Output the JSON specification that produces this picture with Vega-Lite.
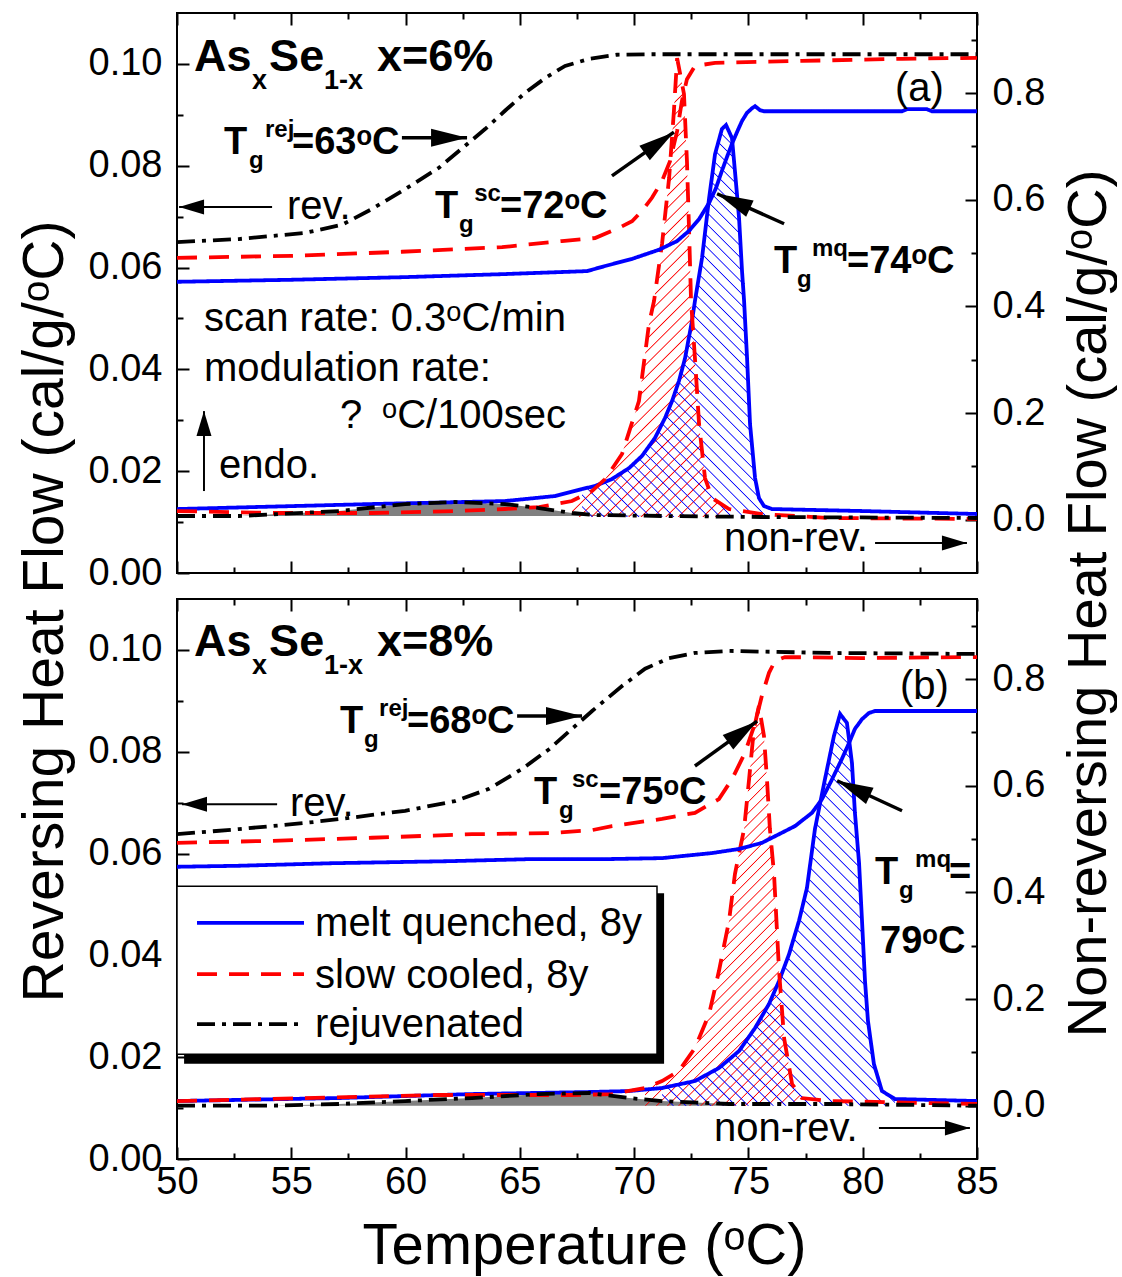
{
"$schema": "https://vega.github.io/schema/vega-lite/v6.json",
"padding": {"left": 15, "top": 11, "right": 0, "bottom": 0},
"bounds": "flush",
"spacing": 26,
"config": {
  "font": "Liberation Sans",
  "view": {"stroke": "#000000", "strokeWidth": 2},
  "axis": {"domain": false, "grid": false, "tickColor": "#000000", "tickWidth": 2, "labelColor": "#000000", "labelFontSize": 38, "labelFont": "Liberation Sans", "labelOverlap": false, "labelFlush": false, "labelBound": false, "titleFont": "Liberation Sans", "titleFontSize": 57, "titleFontWeight": "normal", "titleColor": "#000000"},
  "text": {"font": "Liberation Sans", "color": "#000000"}
},
"resolve": {"scale": {"color": "independent", "strokeDash": "independent"}},
"datasets": {
  "curvesA": [
    {"series":"mq","kind":"rev","T":50,"v":0.0572},{"series":"mq","kind":"rev","T":55.03,"v":0.0576},{"series":"mq","kind":"rev","T":59.84,"v":0.0581},{"series":"mq","kind":"rev","T":64.22,"v":0.0587},{"series":"mq","kind":"rev","T":67.94,"v":0.0593},{"series":"mq","kind":"rev","T":68.73,"v":0.0603},{"series":"mq","kind":"rev","T":69.91,"v":0.0617},{"series":"mq","kind":"rev","T":71.09,"v":0.0635},{"series":"mq","kind":"rev","T":71.88,"v":0.0652},{"series":"mq","kind":"rev","T":72.4,"v":0.0672},{"series":"mq","kind":"rev","T":72.84,"v":0.0695},{"series":"mq","kind":"rev","T":73.28,"v":0.0727},{"series":"mq","kind":"rev","T":73.58,"v":0.0756},{"series":"mq","kind":"rev","T":73.84,"v":0.079},{"series":"mq","kind":"rev","T":74.06,"v":0.0817},{"series":"mq","kind":"rev","T":74.28,"v":0.0843},{"series":"mq","kind":"rev","T":74.5,"v":0.0866},{"series":"mq","kind":"rev","T":74.72,"v":0.0888},{"series":"mq","kind":"rev","T":74.94,"v":0.0904},{"series":"mq","kind":"rev","T":75.16,"v":0.0913},{"series":"mq","kind":"rev","T":75.29,"v":0.0917},{"series":"mq","kind":"rev","T":75.51,"v":0.0909},{"series":"mq","kind":"rev","T":75.68,"v":0.0907},{"series":"mq","kind":"rev","T":81.72,"v":0.0907},{"series":"mq","kind":"rev","T":81.94,"v":0.0911},{"series":"mq","kind":"rev","T":82.81,"v":0.0911},{"series":"mq","kind":"rev","T":83.03,"v":0.0907},{"series":"mq","kind":"rev","T":85,"v":0.0907},
    {"series":"sc","kind":"rev","T":50,"v":0.0619},{"series":"sc","kind":"rev","T":55.03,"v":0.0623},{"series":"sc","kind":"rev","T":59.84,"v":0.0631},{"series":"sc","kind":"rev","T":64.22,"v":0.064},{"series":"sc","kind":"rev","T":66.84,"v":0.0652},{"series":"sc","kind":"rev","T":68.29,"v":0.0658},{"series":"sc","kind":"rev","T":69.34,"v":0.0678},{"series":"sc","kind":"rev","T":69.91,"v":0.0691},{"series":"sc","kind":"rev","T":70.34,"v":0.0711},{"series":"sc","kind":"rev","T":70.78,"v":0.0737},{"series":"sc","kind":"rev","T":71.22,"v":0.077},{"series":"sc","kind":"rev","T":71.57,"v":0.0809},{"series":"sc","kind":"rev","T":71.88,"v":0.0868},{"series":"sc","kind":"rev","T":72.09,"v":0.0927},{"series":"sc","kind":"rev","T":72.31,"v":0.097},{"series":"sc","kind":"rev","T":72.66,"v":0.0996},{"series":"sc","kind":"rev","T":73.54,"v":0.1002},{"series":"sc","kind":"rev","T":77.34,"v":0.1006},{"series":"sc","kind":"rev","T":81.72,"v":0.101},{"series":"sc","kind":"rev","T":85,"v":0.1012},
    {"series":"rej","kind":"rev","T":50,"v":0.065},{"series":"rej","kind":"rev","T":52.71,"v":0.0656},{"series":"rej","kind":"rev","T":55.6,"v":0.0668},{"series":"rej","kind":"rev","T":57.22,"v":0.0684},{"series":"rej","kind":"rev","T":58.53,"v":0.0715},{"series":"rej","kind":"rev","T":59.98,"v":0.0754},{"series":"rej","kind":"rev","T":61.46,"v":0.0796},{"series":"rej","kind":"rev","T":62.6,"v":0.0839},{"series":"rej","kind":"rev","T":63.48,"v":0.0872},{"series":"rej","kind":"rev","T":64.35,"v":0.0908},{"series":"rej","kind":"rev","T":65.23,"v":0.0943},{"series":"rej","kind":"rev","T":66.1,"v":0.0972},{"series":"rej","kind":"rev","T":66.98,"v":0.0996},{"series":"rej","kind":"rev","T":68.03,"v":0.101},{"series":"rej","kind":"rev","T":69.25,"v":0.1018},{"series":"rej","kind":"rev","T":70.78,"v":0.1019},{"series":"rej","kind":"rev","T":85,"v":0.1019},
    {"series":"mq","kind":"nonrev","T":50,"v":0.0199},{"series":"mq","kind":"nonrev","T":58.53,"v":0.0293},{"series":"mq","kind":"nonrev","T":64.35,"v":0.0349},{"series":"mq","kind":"nonrev","T":66.54,"v":0.0443},{"series":"mq","kind":"nonrev","T":67.72,"v":0.0575},{"series":"mq","kind":"nonrev","T":68.29,"v":0.0631},{"series":"mq","kind":"nonrev","T":69.03,"v":0.0762},{"series":"mq","kind":"nonrev","T":69.78,"v":0.0968},{"series":"mq","kind":"nonrev","T":70.34,"v":0.1193},{"series":"mq","kind":"nonrev","T":70.91,"v":0.1531},{"series":"mq","kind":"nonrev","T":71.35,"v":0.1906},{"series":"mq","kind":"nonrev","T":71.66,"v":0.2225},{"series":"mq","kind":"nonrev","T":71.96,"v":0.26},{"series":"mq","kind":"nonrev","T":72.23,"v":0.3031},{"series":"mq","kind":"nonrev","T":72.53,"v":0.3725},{"series":"mq","kind":"nonrev","T":72.66,"v":0.41},{"series":"mq","kind":"nonrev","T":72.97,"v":0.4906},{"series":"mq","kind":"nonrev","T":73.28,"v":0.6031},{"series":"mq","kind":"nonrev","T":73.54,"v":0.6856},{"series":"mq","kind":"nonrev","T":73.84,"v":0.7325},{"series":"mq","kind":"nonrev","T":74.02,"v":0.74},{"series":"mq","kind":"nonrev","T":74.28,"v":0.7156},{"series":"mq","kind":"nonrev","T":74.41,"v":0.6537},{"series":"mq","kind":"nonrev","T":74.59,"v":0.5656},{"series":"mq","kind":"nonrev","T":74.72,"v":0.4662},{"series":"mq","kind":"nonrev","T":74.81,"v":0.41},{"series":"mq","kind":"nonrev","T":74.94,"v":0.3031},{"series":"mq","kind":"nonrev","T":75.07,"v":0.1793},{"series":"mq","kind":"nonrev","T":75.29,"v":0.0781},{"series":"mq","kind":"nonrev","T":75.46,"v":0.0406},{"series":"mq","kind":"nonrev","T":75.68,"v":0.0256},{"series":"mq","kind":"nonrev","T":76.03,"v":0.0199},{"series":"mq","kind":"nonrev","T":79.97,"v":0.0162},{"series":"mq","kind":"nonrev","T":85,"v":0.0106},
    {"series":"sc","kind":"nonrev","T":50,"v":0.0162},{"series":"sc","kind":"nonrev","T":54.16,"v":0.0125},{"series":"sc","kind":"nonrev","T":58.53,"v":0.0125},{"series":"sc","kind":"nonrev","T":62.16,"v":0.0162},{"series":"sc","kind":"nonrev","T":64.35,"v":0.02},{"series":"sc","kind":"nonrev","T":65.84,"v":0.0237},{"series":"sc","kind":"nonrev","T":67.28,"v":0.035},{"series":"sc","kind":"nonrev","T":68.16,"v":0.0537},{"series":"sc","kind":"nonrev","T":68.73,"v":0.0762},{"series":"sc","kind":"nonrev","T":69.47,"v":0.1231},{"series":"sc","kind":"nonrev","T":70.21,"v":0.2225},{"series":"sc","kind":"nonrev","T":70.65,"v":0.3669},{"series":"sc","kind":"nonrev","T":70.87,"v":0.41},{"series":"sc","kind":"nonrev","T":71.22,"v":0.5169},{"series":"sc","kind":"nonrev","T":71.53,"v":0.6406},{"series":"sc","kind":"nonrev","T":71.74,"v":0.7662},{"series":"sc","kind":"nonrev","T":71.88,"v":0.8656},{"series":"sc","kind":"nonrev","T":72.18,"v":0.7981},{"series":"sc","kind":"nonrev","T":72.31,"v":0.6725},{"series":"sc","kind":"nonrev","T":72.4,"v":0.5469},{"series":"sc","kind":"nonrev","T":72.49,"v":0.41},{"series":"sc","kind":"nonrev","T":72.66,"v":0.3031},{"series":"sc","kind":"nonrev","T":72.84,"v":0.1793},{"series":"sc","kind":"nonrev","T":73.1,"v":0.0781},{"series":"sc","kind":"nonrev","T":73.41,"v":0.0406},{"series":"sc","kind":"nonrev","T":74.15,"v":0.0199},{"series":"sc","kind":"nonrev","T":75.59,"v":0.0106},{"series":"sc","kind":"nonrev","T":78.53,"v":0.0031},{"series":"sc","kind":"nonrev","T":85,"v":0.0013},
    {"series":"rej","kind":"nonrev","T":50,"v":0.0069},{"series":"rej","kind":"nonrev","T":52.71,"v":0.0069},{"series":"rej","kind":"nonrev","T":57.09,"v":0.0162},{"series":"rej","kind":"nonrev","T":59.98,"v":0.0293},{"series":"rej","kind":"nonrev","T":62.16,"v":0.0331},{"series":"rej","kind":"nonrev","T":64.35,"v":0.0293},{"series":"rej","kind":"nonrev","T":65.84,"v":0.0218},{"series":"rej","kind":"nonrev","T":67.28,"v":0.0125},{"series":"rej","kind":"nonrev","T":68.29,"v":0.0087},{"series":"rej","kind":"nonrev","T":71.22,"v":0.0069},{"series":"rej","kind":"nonrev","T":75.59,"v":0.005},{"series":"rej","kind":"nonrev","T":85,"v":0.0031}
  ],
  "curvesB": [
    {"series":"mq","kind":"rev","T":50,"v":0.0574},{"series":"mq","kind":"rev","T":52.71,"v":0.0576},{"series":"mq","kind":"rev","T":56.78,"v":0.0581},{"series":"mq","kind":"rev","T":61.9,"v":0.0585},{"series":"mq","kind":"rev","T":65.4,"v":0.0589},{"series":"mq","kind":"rev","T":68.73,"v":0.0589},{"series":"mq","kind":"rev","T":71.22,"v":0.0591},{"series":"mq","kind":"rev","T":73.41,"v":0.0601},{"series":"mq","kind":"rev","T":74.59,"v":0.0609},{"series":"mq","kind":"rev","T":75.59,"v":0.0621},{"series":"mq","kind":"rev","T":76.34,"v":0.0638},{"series":"mq","kind":"rev","T":77.04,"v":0.0654},{"series":"mq","kind":"rev","T":77.78,"v":0.068},{"series":"mq","kind":"rev","T":78.22,"v":0.0707},{"series":"mq","kind":"rev","T":78.66,"v":0.0746},{"series":"mq","kind":"rev","T":79.09,"v":0.0786},{"series":"mq","kind":"rev","T":79.4,"v":0.0817},{"series":"mq","kind":"rev","T":79.66,"v":0.0845},{"series":"mq","kind":"rev","T":79.97,"v":0.0864},{"series":"mq","kind":"rev","T":80.27,"v":0.0876},{"series":"mq","kind":"rev","T":80.54,"v":0.088},{"series":"mq","kind":"rev","T":85,"v":0.088},
    {"series":"sc","kind":"rev","T":50,"v":0.0621},{"series":"sc","kind":"rev","T":54.16,"v":0.0625},{"series":"sc","kind":"rev","T":58.53,"v":0.0631},{"series":"sc","kind":"rev","T":62.91,"v":0.0638},{"series":"sc","kind":"rev","T":66.28,"v":0.064},{"series":"sc","kind":"rev","T":68.16,"v":0.0646},{"series":"sc","kind":"rev","T":69.03,"v":0.0654},{"series":"sc","kind":"rev","T":71.22,"v":0.0668},{"series":"sc","kind":"rev","T":72.66,"v":0.068},{"series":"sc","kind":"rev","T":73.71,"v":0.0707},{"series":"sc","kind":"rev","T":74.28,"v":0.0746},{"series":"sc","kind":"rev","T":74.85,"v":0.0798},{"series":"sc","kind":"rev","T":75.29,"v":0.0856},{"series":"sc","kind":"rev","T":75.59,"v":0.091},{"series":"sc","kind":"rev","T":75.9,"v":0.0955},{"series":"sc","kind":"rev","T":76.16,"v":0.0978},{"series":"sc","kind":"rev","T":76.6,"v":0.0986},{"series":"sc","kind":"rev","T":79.97,"v":0.0984},{"series":"sc","kind":"rev","T":85,"v":0.0986},
    {"series":"rej","kind":"rev","T":50,"v":0.0638},{"series":"rej","kind":"rev","T":52.71,"v":0.0648},{"series":"rej","kind":"rev","T":55.6,"v":0.066},{"series":"rej","kind":"rev","T":57.53,"v":0.067},{"series":"rej","kind":"rev","T":59.98,"v":0.0684},{"series":"rej","kind":"rev","T":62.16,"v":0.0703},{"series":"rej","kind":"rev","T":63.65,"v":0.0727},{"series":"rej","kind":"rev","T":65.09,"v":0.0766},{"series":"rej","kind":"rev","T":66.28,"v":0.0805},{"series":"rej","kind":"rev","T":67.28,"v":0.0845},{"series":"rej","kind":"rev","T":68.16,"v":0.088},{"series":"rej","kind":"rev","T":69.47,"v":0.0929},{"series":"rej","kind":"rev","T":70.48,"v":0.0963},{"series":"rej","kind":"rev","T":71.53,"v":0.0984},{"series":"rej","kind":"rev","T":72.66,"v":0.0994},{"series":"rej","kind":"rev","T":74.15,"v":0.0998},{"series":"rej","kind":"rev","T":78.53,"v":0.0994},{"series":"rej","kind":"rev","T":85,"v":0.0992},
    {"series":"mq","kind":"nonrev","T":50,"v":0.0087},{"series":"mq","kind":"nonrev","T":57.09,"v":0.0143},{"series":"mq","kind":"nonrev","T":62.91,"v":0.0218},{"series":"mq","kind":"nonrev","T":68.03,"v":0.0256},{"series":"mq","kind":"nonrev","T":69.78,"v":0.0274},{"series":"mq","kind":"nonrev","T":71.22,"v":0.0331},{"series":"mq","kind":"nonrev","T":72.66,"v":0.0462},{"series":"mq","kind":"nonrev","T":73.71,"v":0.0706},{"series":"mq","kind":"nonrev","T":74.59,"v":0.1025},{"series":"mq","kind":"nonrev","T":75.29,"v":0.1456},{"series":"mq","kind":"nonrev","T":75.9,"v":0.1906},{"series":"mq","kind":"nonrev","T":76.34,"v":0.2337},{"series":"mq","kind":"nonrev","T":76.78,"v":0.2843},{"series":"mq","kind":"nonrev","T":77.21,"v":0.3462},{"series":"mq","kind":"nonrev","T":77.56,"v":0.4081},{"series":"mq","kind":"nonrev","T":77.91,"v":0.5187},{"series":"mq","kind":"nonrev","T":78.35,"v":0.6125},{"series":"mq","kind":"nonrev","T":78.74,"v":0.6931},{"series":"mq","kind":"nonrev","T":79.01,"v":0.7344},{"series":"mq","kind":"nonrev","T":79.31,"v":0.7175},{"series":"mq","kind":"nonrev","T":79.53,"v":0.6425},{"series":"mq","kind":"nonrev","T":79.66,"v":0.5487},{"series":"mq","kind":"nonrev","T":79.84,"v":0.455},{"series":"mq","kind":"nonrev","T":79.97,"v":0.3462},{"series":"mq","kind":"nonrev","T":80.1,"v":0.2337},{"series":"mq","kind":"nonrev","T":80.23,"v":0.1587},{"series":"mq","kind":"nonrev","T":80.49,"v":0.0781},{"series":"mq","kind":"nonrev","T":80.84,"v":0.0275},{"series":"mq","kind":"nonrev","T":81.41,"v":0.0125},{"series":"mq","kind":"nonrev","T":85,"v":0.0087},
    {"series":"sc","kind":"nonrev","T":50,"v":0.0087},{"series":"sc","kind":"nonrev","T":55.6,"v":0.0143},{"series":"sc","kind":"nonrev","T":61.46,"v":0.02},{"series":"sc","kind":"nonrev","T":67.28,"v":0.02},{"series":"sc","kind":"nonrev","T":69.03,"v":0.0218},{"series":"sc","kind":"nonrev","T":70.48,"v":0.0331},{"series":"sc","kind":"nonrev","T":71.22,"v":0.0462},{"series":"sc","kind":"nonrev","T":71.96,"v":0.065},{"series":"sc","kind":"nonrev","T":72.66,"v":0.1081},{"series":"sc","kind":"nonrev","T":73.28,"v":0.1718},{"series":"sc","kind":"nonrev","T":73.71,"v":0.2525},{"series":"sc","kind":"nonrev","T":74.15,"v":0.3462},{"series":"sc","kind":"nonrev","T":74.41,"v":0.4343},{"series":"sc","kind":"nonrev","T":74.81,"v":0.5187},{"series":"sc","kind":"nonrev","T":75.03,"v":0.6125},{"series":"sc","kind":"nonrev","T":75.24,"v":0.7062},{"series":"sc","kind":"nonrev","T":75.46,"v":0.7494},{"series":"sc","kind":"nonrev","T":75.68,"v":0.6931},{"series":"sc","kind":"nonrev","T":75.81,"v":0.6125},{"series":"sc","kind":"nonrev","T":75.94,"v":0.5187},{"series":"sc","kind":"nonrev","T":76.12,"v":0.4343},{"series":"sc","kind":"nonrev","T":76.34,"v":0.2525},{"series":"sc","kind":"nonrev","T":76.56,"v":0.1268},{"series":"sc","kind":"nonrev","T":76.91,"v":0.0406},{"series":"sc","kind":"nonrev","T":77.34,"v":0.0143},{"series":"sc","kind":"nonrev","T":78.53,"v":0.0087},{"series":"sc","kind":"nonrev","T":85,"v":0.0031},
    {"series":"rej","kind":"nonrev","T":50,"v":0.0},{"series":"rej","kind":"nonrev","T":54.16,"v":0.0},{"series":"rej","kind":"nonrev","T":57.09,"v":0.0031},{"series":"rej","kind":"nonrev","T":59.98,"v":0.0087},{"series":"rej","kind":"nonrev","T":62.91,"v":0.0143},{"series":"rej","kind":"nonrev","T":65.84,"v":0.0218},{"series":"rej","kind":"nonrev","T":68.03,"v":0.0237},{"series":"rej","kind":"nonrev","T":69.78,"v":0.0143},{"series":"rej","kind":"nonrev","T":71.22,"v":0.0087},{"series":"rej","kind":"nonrev","T":74.15,"v":0.0031},{"series":"rej","kind":"nonrev","T":78.53,"v":0.0031},{"series":"rej","kind":"nonrev","T":85,"v":0.0}
  ],
  "arrowsA": [
    {"id":"rev","T":54.16,"v":0.0719,"T2":50.09,"v2":0.0719},
    {"id":"rej","T":59.84,"v":0.0855,"T2":62.69,"v2":0.0855},
    {"id":"sc","T":69.03,"v":0.078,"T2":71.74,"v2":0.0866},
    {"id":"mq","T":76.56,"v":0.0686,"T2":73.63,"v2":0.0745},
    {"id":"endo","T":51.18,"v":0.0161,"T2":51.18,"v2":0.0318},
    {"id":"nonrev","T":80.54,"v":0.0059,"T2":84.56,"v2":0.0059}
  ],
  "arrowsB": [
    {"id":"rev","T":54.38,"v":0.0697,"T2":50.22,"v2":0.0697},
    {"id":"rej","T":64.88,"v":0.087,"T2":67.72,"v2":0.087},
    {"id":"sc","T":72.66,"v":0.0772,"T2":75.38,"v2":0.086},
    {"id":"mq","T":81.72,"v":0.0684,"T2":78.88,"v2":0.0743},
    {"id":"nonrev","T":80.71,"v":0.0061,"T2":84.69,"v2":0.0061}
  ],
  "notesA": [
    {"kind":"formula","T":50.74,"v":0.0986,"text":"As"},{"kind":"formula","T":54.03,"v":0.0986,"text":"Se"},{"kind":"formula","T":58.75,"v":0.0986,"text":"x=6%"},
    {"kind":"formulaSub","T":53.28,"v":0.0951,"text":"x"},{"kind":"formulaSub","T":56.43,"v":0.0951,"text":"1-x"},
    {"kind":"tg","T":52.06,"v":0.0823,"text":"T"},{"kind":"tg","T":55.03,"v":0.0823,"text":"=63ᵒC"},{"kind":"tg","T":61.29,"v":0.0697,"text":"T"},{"kind":"tg","T":64.13,"v":0.0697,"text":"=72ᵒC"},{"kind":"tg","T":76.12,"v":0.0589,"text":"T"},{"kind":"tg","T":79.31,"v":0.0589,"text":"=74ᵒC"},
    {"kind":"tgScript","T":53.15,"v":0.0796,"text":"g"},{"kind":"tgScript","T":53.85,"v":0.0856,"text":"rej"},{"kind":"tgScript","T":62.34,"v":0.067,"text":"g"},{"kind":"tgScript","T":63.0,"v":0.0731,"text":"sc"},{"kind":"tgScript","T":77.13,"v":0.0562,"text":"g"},{"kind":"tgScript","T":77.78,"v":0.0623,"text":"mq"},
    {"kind":"note","T":54.81,"v":0.0695,"text":"rev."},{"kind":"note","T":51.18,"v":0.0475,"text":"scan rate: 0.3ᵒC/min"},{"kind":"note","T":51.18,"v":0.0377,"text":"modulation rate:"},{"kind":"note","T":57.13,"v":0.0285,"text":"?"},{"kind":"note","T":58.97,"v":0.0285,"text":"ᵒC/100sec"},{"kind":"note","T":51.84,"v":0.0187,"text":"endo."},{"kind":"note","T":73.93,"v":0.0043,"text":"non-rev."},
    {"kind":"panel","T":81.41,"v":0.0927,"text":"(a)"}
  ],
  "notesB": [
    {"kind":"formula","T":50.74,"v":0.0988,"text":"As"},{"kind":"formula","T":54.03,"v":0.0988,"text":"Se"},{"kind":"formula","T":58.75,"v":0.0988,"text":"x=8%"},
    {"kind":"formulaSub","T":53.28,"v":0.0953,"text":"x"},{"kind":"formulaSub","T":56.43,"v":0.0953,"text":"1-x"},
    {"kind":"tg","T":57.13,"v":0.0837,"text":"T"},{"kind":"tg","T":60.06,"v":0.0837,"text":"=68ᵒC"},{"kind":"tg","T":65.62,"v":0.0697,"text":"T"},{"kind":"tg","T":68.46,"v":0.0697,"text":"=75ᵒC"},{"kind":"tg","T":80.54,"v":0.054,"text":"T"},{"kind":"tg","T":83.78,"v":0.054,"text":"="},{"kind":"tg","T":80.76,"v":0.0405,"text":"79ᵒC"},
    {"kind":"tgScript","T":58.18,"v":0.0809,"text":"g"},{"kind":"tgScript","T":58.84,"v":0.087,"text":"rej"},{"kind":"tgScript","T":66.71,"v":0.067,"text":"g"},{"kind":"tgScript","T":67.28,"v":0.0731,"text":"sc"},{"kind":"tgScript","T":81.59,"v":0.0513,"text":"g"},{"kind":"tgScript","T":82.29,"v":0.0574,"text":"mq"},
    {"kind":"note","T":54.94,"v":0.0674,"text":"rev."},{"kind":"note","T":73.49,"v":0.0035,"text":"non-rev."},
    {"kind":"panel","T":81.63,"v":0.0904,"text":"(b)"}
  ],
  "shadowB": [{"T":50.31,"T2":71.31,"v":0.0522,"v2":0.0187}],
  "legendBoxB": [{"T":50,"T2":71.0,"v":0.0536,"v2":0.0206}],
  "legendB": [
    {"series":"mq","T":50.875,"T2":55.556,"v":0.0464,"lx":56.04,"lv":0.0438,"label":"melt quenched, 8y"},
    {"series":"sc","T":50.875,"T2":55.556,"v":0.0363,"lx":56.04,"lv":0.0336,"label":"slow cooled, 8y"},
    {"series":"rej","T":50.875,"T2":55.556,"v":0.0265,"lx":56.04,"lv":0.024,"label":"rejuvenated"}
  ]
},
"vconcat": [
{
  "width": 800, "height": 560,
  "resolve": {"scale": {"y": "independent"}, "axis": {"x": "independent"}},
  "layer": [
    {
      "encoding": {
        "x": {"field": "T", "type": "quantitative", "scale": {"domain": [50, 85], "nice": false, "zero": false}, "axis": {"orient": "top", "values": [50,52.5,55,57.5,60,62.5,65,67.5,70,72.5,75,77.5,80,82.5,85], "labels": false, "title": null, "tickSize": {"condition": {"test": "datum.value % 5 === 0", "value": -12}, "value": -6}}},
        "y": {"field": "v", "type": "quantitative", "scale": {"domain": [-0.1, 0.95], "nice": false, "zero": false}, "axis": {"orient": "right", "values": [0,0.1,0.2,0.3,0.4,0.5,0.6,0.7,0.8,0.9], "labelExpr": "round(datum.value*10) % 2 === 0 ? format(datum.value, '.1f') : ''", "labelPadding": 27, "tickSize": {"condition": {"test": "round(datum.value*10) % 2 === 0", "value": -12}, "value": -6}, "title": "Non-reversing Heat Flow (cal/g/ᵒC)", "titleFontSize": 56, "titleAngle": 270, "titleX": 128, "titleY": 590, "titleAlign": "center", "titleBaseline": "alphabetic"}}
      },
      "layer": [
        {"data": {"name": "curvesA"}, "transform": [{"filter": "datum.kind === 'nonrev' && datum.series === 'rej' && datum.T >= 52.7 && datum.T <= 71.3"}], "mark": {"type": "area", "color": "#808080", "opacity": 1}, "encoding": {"y2": {"datum": 0.0069}}},
        {"data": {"name": "curvesA"}, "transform": [{"filter": "datum.kind === 'nonrev' && datum.series === 'sc' && datum.T >= 67.2 && datum.T <= 74.2"}], "mark": {"type": "area", "opacity": 1, "fill": {"gradient": "linear", "x1": 0, "y1": 0, "x2": 0.4085, "y2": 1.201, "stops": [{"offset":0.016,"color":"rgba(255,0,0,0)"},{"offset":0.018,"color":"red"},{"offset":0.02,"color":"rgba(255,0,0,0)"},{"offset":0.036,"color":"rgba(255,0,0,0)"},{"offset":0.038,"color":"red"},{"offset":0.04,"color":"rgba(255,0,0,0)"},{"offset":0.056,"color":"rgba(255,0,0,0)"},{"offset":0.058,"color":"red"},{"offset":0.06,"color":"rgba(255,0,0,0)"},{"offset":0.076,"color":"rgba(255,0,0,0)"},{"offset":0.078,"color":"red"},{"offset":0.08,"color":"rgba(255,0,0,0)"},{"offset":0.096,"color":"rgba(255,0,0,0)"},{"offset":0.098,"color":"red"},{"offset":0.1,"color":"rgba(255,0,0,0)"},{"offset":0.116,"color":"rgba(255,0,0,0)"},{"offset":0.118,"color":"red"},{"offset":0.12,"color":"rgba(255,0,0,0)"},{"offset":0.136,"color":"rgba(255,0,0,0)"},{"offset":0.138,"color":"red"},{"offset":0.14,"color":"rgba(255,0,0,0)"},{"offset":0.156,"color":"rgba(255,0,0,0)"},{"offset":0.158,"color":"red"},{"offset":0.16,"color":"rgba(255,0,0,0)"},{"offset":0.176,"color":"rgba(255,0,0,0)"},{"offset":0.178,"color":"red"},{"offset":0.18,"color":"rgba(255,0,0,0)"},{"offset":0.196,"color":"rgba(255,0,0,0)"},{"offset":0.198,"color":"red"},{"offset":0.2,"color":"rgba(255,0,0,0)"},{"offset":0.216,"color":"rgba(255,0,0,0)"},{"offset":0.218,"color":"red"},{"offset":0.22,"color":"rgba(255,0,0,0)"},{"offset":0.236,"color":"rgba(255,0,0,0)"},{"offset":0.238,"color":"red"},{"offset":0.24,"color":"rgba(255,0,0,0)"},{"offset":0.256,"color":"rgba(255,0,0,0)"},{"offset":0.258,"color":"red"},{"offset":0.26,"color":"rgba(255,0,0,0)"},{"offset":0.276,"color":"rgba(255,0,0,0)"},{"offset":0.278,"color":"red"},{"offset":0.28,"color":"rgba(255,0,0,0)"},{"offset":0.296,"color":"rgba(255,0,0,0)"},{"offset":0.298,"color":"red"},{"offset":0.3,"color":"rgba(255,0,0,0)"},{"offset":0.316,"color":"rgba(255,0,0,0)"},{"offset":0.318,"color":"red"},{"offset":0.32,"color":"rgba(255,0,0,0)"},{"offset":0.336,"color":"rgba(255,0,0,0)"},{"offset":0.338,"color":"red"},{"offset":0.34,"color":"rgba(255,0,0,0)"},{"offset":0.356,"color":"rgba(255,0,0,0)"},{"offset":0.358,"color":"red"},{"offset":0.36,"color":"rgba(255,0,0,0)"},{"offset":0.376,"color":"rgba(255,0,0,0)"},{"offset":0.378,"color":"red"},{"offset":0.38,"color":"rgba(255,0,0,0)"},{"offset":0.396,"color":"rgba(255,0,0,0)"},{"offset":0.398,"color":"red"},{"offset":0.4,"color":"rgba(255,0,0,0)"},{"offset":0.416,"color":"rgba(255,0,0,0)"},{"offset":0.418,"color":"red"},{"offset":0.42,"color":"rgba(255,0,0,0)"},{"offset":0.436,"color":"rgba(255,0,0,0)"},{"offset":0.438,"color":"red"},{"offset":0.44,"color":"rgba(255,0,0,0)"},{"offset":0.456,"color":"rgba(255,0,0,0)"},{"offset":0.458,"color":"red"},{"offset":0.46,"color":"rgba(255,0,0,0)"},{"offset":0.476,"color":"rgba(255,0,0,0)"},{"offset":0.478,"color":"red"},{"offset":0.48,"color":"rgba(255,0,0,0)"},{"offset":0.496,"color":"rgba(255,0,0,0)"},{"offset":0.498,"color":"red"},{"offset":0.5,"color":"rgba(255,0,0,0)"},{"offset":0.516,"color":"rgba(255,0,0,0)"},{"offset":0.518,"color":"red"},{"offset":0.52,"color":"rgba(255,0,0,0)"},{"offset":0.536,"color":"rgba(255,0,0,0)"},{"offset":0.538,"color":"red"},{"offset":0.54,"color":"rgba(255,0,0,0)"},{"offset":0.556,"color":"rgba(255,0,0,0)"},{"offset":0.558,"color":"red"},{"offset":0.56,"color":"rgba(255,0,0,0)"},{"offset":0.576,"color":"rgba(255,0,0,0)"},{"offset":0.578,"color":"red"},{"offset":0.58,"color":"rgba(255,0,0,0)"},{"offset":0.596,"color":"rgba(255,0,0,0)"},{"offset":0.598,"color":"red"},{"offset":0.6,"color":"rgba(255,0,0,0)"},{"offset":0.616,"color":"rgba(255,0,0,0)"},{"offset":0.618,"color":"red"},{"offset":0.62,"color":"rgba(255,0,0,0)"},{"offset":0.636,"color":"rgba(255,0,0,0)"},{"offset":0.638,"color":"red"},{"offset":0.64,"color":"rgba(255,0,0,0)"},{"offset":0.656,"color":"rgba(255,0,0,0)"},{"offset":0.658,"color":"red"},{"offset":0.66,"color":"rgba(255,0,0,0)"},{"offset":0.676,"color":"rgba(255,0,0,0)"},{"offset":0.678,"color":"red"},{"offset":0.68,"color":"rgba(255,0,0,0)"},{"offset":0.696,"color":"rgba(255,0,0,0)"},{"offset":0.698,"color":"red"},{"offset":0.7,"color":"rgba(255,0,0,0)"},{"offset":0.716,"color":"rgba(255,0,0,0)"},{"offset":0.718,"color":"red"},{"offset":0.72,"color":"rgba(255,0,0,0)"},{"offset":0.736,"color":"rgba(255,0,0,0)"},{"offset":0.738,"color":"red"},{"offset":0.74,"color":"rgba(255,0,0,0)"},{"offset":0.756,"color":"rgba(255,0,0,0)"},{"offset":0.758,"color":"red"},{"offset":0.76,"color":"rgba(255,0,0,0)"},{"offset":0.776,"color":"rgba(255,0,0,0)"},{"offset":0.778,"color":"red"},{"offset":0.78,"color":"rgba(255,0,0,0)"},{"offset":0.796,"color":"rgba(255,0,0,0)"},{"offset":0.798,"color":"red"},{"offset":0.8,"color":"rgba(255,0,0,0)"},{"offset":0.816,"color":"rgba(255,0,0,0)"},{"offset":0.818,"color":"red"},{"offset":0.82,"color":"rgba(255,0,0,0)"},{"offset":0.836,"color":"rgba(255,0,0,0)"},{"offset":0.838,"color":"red"},{"offset":0.84,"color":"rgba(255,0,0,0)"},{"offset":0.856,"color":"rgba(255,0,0,0)"},{"offset":0.858,"color":"red"},{"offset":0.86,"color":"rgba(255,0,0,0)"},{"offset":0.876,"color":"rgba(255,0,0,0)"},{"offset":0.878,"color":"red"},{"offset":0.88,"color":"rgba(255,0,0,0)"},{"offset":0.896,"color":"rgba(255,0,0,0)"},{"offset":0.898,"color":"red"},{"offset":0.9,"color":"rgba(255,0,0,0)"},{"offset":0.916,"color":"rgba(255,0,0,0)"},{"offset":0.918,"color":"red"},{"offset":0.92,"color":"rgba(255,0,0,0)"},{"offset":0.936,"color":"rgba(255,0,0,0)"},{"offset":0.938,"color":"red"},{"offset":0.94,"color":"rgba(255,0,0,0)"},{"offset":0.956,"color":"rgba(255,0,0,0)"},{"offset":0.958,"color":"red"},{"offset":0.96,"color":"rgba(255,0,0,0)"},{"offset":0.976,"color":"rgba(255,0,0,0)"},{"offset":0.978,"color":"red"},{"offset":0.98,"color":"rgba(255,0,0,0)"},{"offset":0.996,"color":"rgba(255,0,0,0)"},{"offset":0.998,"color":"red"},{"offset":1,"color":"rgba(255,0,0,0)"}]}}, "encoding": {"y2": {"datum": 0.005}}},
        {"data": {"name": "curvesA"}, "transform": [{"filter": "datum.kind === 'nonrev' && datum.series === 'mq' && datum.T >= 67.2 && datum.T <= 76.1"}], "mark": {"type": "area", "opacity": 1, "fill": {"gradient": "linear", "x1": 0, "y1": 1, "x2": 0.5835, "y2": -0.2022, "stops": [{"offset":0.016,"color":"rgba(0,0,255,0)"},{"offset":0.018,"color":"blue"},{"offset":0.02,"color":"rgba(0,0,255,0)"},{"offset":0.036,"color":"rgba(0,0,255,0)"},{"offset":0.038,"color":"blue"},{"offset":0.04,"color":"rgba(0,0,255,0)"},{"offset":0.056,"color":"rgba(0,0,255,0)"},{"offset":0.058,"color":"blue"},{"offset":0.06,"color":"rgba(0,0,255,0)"},{"offset":0.076,"color":"rgba(0,0,255,0)"},{"offset":0.078,"color":"blue"},{"offset":0.08,"color":"rgba(0,0,255,0)"},{"offset":0.096,"color":"rgba(0,0,255,0)"},{"offset":0.098,"color":"blue"},{"offset":0.1,"color":"rgba(0,0,255,0)"},{"offset":0.116,"color":"rgba(0,0,255,0)"},{"offset":0.118,"color":"blue"},{"offset":0.12,"color":"rgba(0,0,255,0)"},{"offset":0.136,"color":"rgba(0,0,255,0)"},{"offset":0.138,"color":"blue"},{"offset":0.14,"color":"rgba(0,0,255,0)"},{"offset":0.156,"color":"rgba(0,0,255,0)"},{"offset":0.158,"color":"blue"},{"offset":0.16,"color":"rgba(0,0,255,0)"},{"offset":0.176,"color":"rgba(0,0,255,0)"},{"offset":0.178,"color":"blue"},{"offset":0.18,"color":"rgba(0,0,255,0)"},{"offset":0.196,"color":"rgba(0,0,255,0)"},{"offset":0.198,"color":"blue"},{"offset":0.2,"color":"rgba(0,0,255,0)"},{"offset":0.216,"color":"rgba(0,0,255,0)"},{"offset":0.218,"color":"blue"},{"offset":0.22,"color":"rgba(0,0,255,0)"},{"offset":0.236,"color":"rgba(0,0,255,0)"},{"offset":0.238,"color":"blue"},{"offset":0.24,"color":"rgba(0,0,255,0)"},{"offset":0.256,"color":"rgba(0,0,255,0)"},{"offset":0.258,"color":"blue"},{"offset":0.26,"color":"rgba(0,0,255,0)"},{"offset":0.276,"color":"rgba(0,0,255,0)"},{"offset":0.278,"color":"blue"},{"offset":0.28,"color":"rgba(0,0,255,0)"},{"offset":0.296,"color":"rgba(0,0,255,0)"},{"offset":0.298,"color":"blue"},{"offset":0.3,"color":"rgba(0,0,255,0)"},{"offset":0.316,"color":"rgba(0,0,255,0)"},{"offset":0.318,"color":"blue"},{"offset":0.32,"color":"rgba(0,0,255,0)"},{"offset":0.336,"color":"rgba(0,0,255,0)"},{"offset":0.338,"color":"blue"},{"offset":0.34,"color":"rgba(0,0,255,0)"},{"offset":0.356,"color":"rgba(0,0,255,0)"},{"offset":0.358,"color":"blue"},{"offset":0.36,"color":"rgba(0,0,255,0)"},{"offset":0.376,"color":"rgba(0,0,255,0)"},{"offset":0.378,"color":"blue"},{"offset":0.38,"color":"rgba(0,0,255,0)"},{"offset":0.396,"color":"rgba(0,0,255,0)"},{"offset":0.398,"color":"blue"},{"offset":0.4,"color":"rgba(0,0,255,0)"},{"offset":0.416,"color":"rgba(0,0,255,0)"},{"offset":0.418,"color":"blue"},{"offset":0.42,"color":"rgba(0,0,255,0)"},{"offset":0.436,"color":"rgba(0,0,255,0)"},{"offset":0.438,"color":"blue"},{"offset":0.44,"color":"rgba(0,0,255,0)"},{"offset":0.456,"color":"rgba(0,0,255,0)"},{"offset":0.458,"color":"blue"},{"offset":0.46,"color":"rgba(0,0,255,0)"},{"offset":0.476,"color":"rgba(0,0,255,0)"},{"offset":0.478,"color":"blue"},{"offset":0.48,"color":"rgba(0,0,255,0)"},{"offset":0.496,"color":"rgba(0,0,255,0)"},{"offset":0.498,"color":"blue"},{"offset":0.5,"color":"rgba(0,0,255,0)"},{"offset":0.516,"color":"rgba(0,0,255,0)"},{"offset":0.518,"color":"blue"},{"offset":0.52,"color":"rgba(0,0,255,0)"},{"offset":0.536,"color":"rgba(0,0,255,0)"},{"offset":0.538,"color":"blue"},{"offset":0.54,"color":"rgba(0,0,255,0)"},{"offset":0.556,"color":"rgba(0,0,255,0)"},{"offset":0.558,"color":"blue"},{"offset":0.56,"color":"rgba(0,0,255,0)"},{"offset":0.576,"color":"rgba(0,0,255,0)"},{"offset":0.578,"color":"blue"},{"offset":0.58,"color":"rgba(0,0,255,0)"},{"offset":0.596,"color":"rgba(0,0,255,0)"},{"offset":0.598,"color":"blue"},{"offset":0.6,"color":"rgba(0,0,255,0)"},{"offset":0.616,"color":"rgba(0,0,255,0)"},{"offset":0.618,"color":"blue"},{"offset":0.62,"color":"rgba(0,0,255,0)"},{"offset":0.636,"color":"rgba(0,0,255,0)"},{"offset":0.638,"color":"blue"},{"offset":0.64,"color":"rgba(0,0,255,0)"},{"offset":0.656,"color":"rgba(0,0,255,0)"},{"offset":0.658,"color":"blue"},{"offset":0.66,"color":"rgba(0,0,255,0)"},{"offset":0.676,"color":"rgba(0,0,255,0)"},{"offset":0.678,"color":"blue"},{"offset":0.68,"color":"rgba(0,0,255,0)"},{"offset":0.696,"color":"rgba(0,0,255,0)"},{"offset":0.698,"color":"blue"},{"offset":0.7,"color":"rgba(0,0,255,0)"},{"offset":0.716,"color":"rgba(0,0,255,0)"},{"offset":0.718,"color":"blue"},{"offset":0.72,"color":"rgba(0,0,255,0)"},{"offset":0.736,"color":"rgba(0,0,255,0)"},{"offset":0.738,"color":"blue"},{"offset":0.74,"color":"rgba(0,0,255,0)"},{"offset":0.756,"color":"rgba(0,0,255,0)"},{"offset":0.758,"color":"blue"},{"offset":0.76,"color":"rgba(0,0,255,0)"},{"offset":0.776,"color":"rgba(0,0,255,0)"},{"offset":0.778,"color":"blue"},{"offset":0.78,"color":"rgba(0,0,255,0)"},{"offset":0.796,"color":"rgba(0,0,255,0)"},{"offset":0.798,"color":"blue"},{"offset":0.8,"color":"rgba(0,0,255,0)"},{"offset":0.816,"color":"rgba(0,0,255,0)"},{"offset":0.818,"color":"blue"},{"offset":0.82,"color":"rgba(0,0,255,0)"},{"offset":0.836,"color":"rgba(0,0,255,0)"},{"offset":0.838,"color":"blue"},{"offset":0.84,"color":"rgba(0,0,255,0)"},{"offset":0.856,"color":"rgba(0,0,255,0)"},{"offset":0.858,"color":"blue"},{"offset":0.86,"color":"rgba(0,0,255,0)"},{"offset":0.876,"color":"rgba(0,0,255,0)"},{"offset":0.878,"color":"blue"},{"offset":0.88,"color":"rgba(0,0,255,0)"},{"offset":0.896,"color":"rgba(0,0,255,0)"},{"offset":0.898,"color":"blue"},{"offset":0.9,"color":"rgba(0,0,255,0)"},{"offset":0.916,"color":"rgba(0,0,255,0)"},{"offset":0.918,"color":"blue"},{"offset":0.92,"color":"rgba(0,0,255,0)"},{"offset":0.936,"color":"rgba(0,0,255,0)"},{"offset":0.938,"color":"blue"},{"offset":0.94,"color":"rgba(0,0,255,0)"},{"offset":0.956,"color":"rgba(0,0,255,0)"},{"offset":0.958,"color":"blue"},{"offset":0.96,"color":"rgba(0,0,255,0)"},{"offset":0.976,"color":"rgba(0,0,255,0)"},{"offset":0.978,"color":"blue"},{"offset":0.98,"color":"rgba(0,0,255,0)"},{"offset":0.996,"color":"rgba(0,0,255,0)"},{"offset":0.998,"color":"blue"},{"offset":1,"color":"rgba(0,0,255,0)"}]}}, "encoding": {"y2": {"datum": 0.005}}},
        {"data": {"name": "curvesA"}, "transform": [{"filter": "datum.kind === 'nonrev'"}], "mark": {"type": "line", "strokeWidth": 3.8}, "encoding": {"color": {"field": "series", "type": "nominal", "scale": {"domain": ["mq","sc","rej"], "range": ["#0000ff","#ff0000","#000000"]}, "legend": null}, "strokeDash": {"field": "series", "type": "nominal", "scale": {"domain": ["mq","sc","rej"], "range": [[1,0],[20,12],[18,7,4,7]]}, "legend": null}}}
      ]
    },
    {
      "encoding": {
        "x": {"field": "T", "type": "quantitative", "scale": {"domain": [50, 85], "nice": false, "zero": false}, "axis": {"orient": "bottom", "values": [50,52.5,55,57.5,60,62.5,65,67.5,70,72.5,75,77.5,80,82.5,85], "labels": false, "title": null, "tickSize": {"condition": {"test": "datum.value % 5 === 0", "value": -12}, "value": -6}}},
        "y": {"field": "v", "type": "quantitative", "scale": {"domain": [0, 0.11], "nice": false, "zero": false}, "axis": {"orient": "left", "values": [0,0.01,0.02,0.03,0.04,0.05,0.06,0.07,0.08,0.09,0.1], "labelExpr": "round(datum.value*100) % 2 === 0 ? format(datum.value, '.2f') : ''", "labelPadding": 27, "tickSize": {"condition": {"test": "round(datum.value*100) % 2 === 0", "value": -12}, "value": -6}, "title": "Reversing Heat Flow (cal/g/ᵒC)", "titleAngle": 270, "titleX": -115, "titleY": 598, "titleAlign": "center", "titleBaseline": "alphabetic"}}
      },
      "layer": [
        {"data": {"name": "curvesA"}, "transform": [{"filter": "datum.kind === 'rev'"}], "mark": {"type": "line", "strokeWidth": 3.8}, "encoding": {"color": {"field": "series", "type": "nominal", "scale": {"domain": ["mq","sc","rej"], "range": ["#0000ff","#ff0000","#000000"]}, "legend": null}, "strokeDash": {"field": "series", "type": "nominal", "scale": {"domain": ["mq","sc","rej"], "range": [[1,0],[20,12],[18,7,4,7]]}, "legend": null}}},
        {"data": {"name": "arrowsA"}, "transform": [{"filter": "indexof(['rev','endo','nonrev'], datum.id) >= 0"}], "mark": {"type": "rule", "strokeWidth": 2, "color": "#000000"}, "encoding": {"x2": {"field": "T2"}, "y2": {"field": "v2"}}},
        {"data": {"name": "arrowsA"}, "transform": [{"filter": "indexof(['rej','sc','mq'], datum.id) >= 0"}], "mark": {"type": "rule", "strokeWidth": 3.5, "color": "#000000"}, "encoding": {"x2": {"field": "T2"}, "y2": {"field": "v2"}}},
        {"data": {"name": "arrowsA"}, "transform": [{"filter": "datum.id === 'rej'"}], "mark": {"type": "point", "shape": "M0,0L-2,-0.5L-2,0.5Z", "size": 1296, "angle": 0, "filled": true, "color": "#000000", "opacity": 1, "strokeWidth": 0}, "encoding": {"x": {"field": "T2", "type": "quantitative"}, "y": {"field": "v2", "type": "quantitative"}}},
        {"data": {"name": "arrowsA"}, "transform": [{"filter": "datum.id === 'sc'"}], "mark": {"type": "point", "shape": "M0,0L-2,-0.5L-2,0.5Z", "size": 1296, "angle": 324.5, "filled": true, "color": "#000000", "opacity": 1, "strokeWidth": 0}, "encoding": {"x": {"field": "T2", "type": "quantitative"}, "y": {"field": "v2", "type": "quantitative"}}},
        {"data": {"name": "arrowsA"}, "transform": [{"filter": "datum.id === 'mq'"}], "mark": {"type": "point", "shape": "M0,0L-2,-0.5L-2,0.5Z", "size": 1296, "angle": 204.5, "filled": true, "color": "#000000", "opacity": 1, "strokeWidth": 0}, "encoding": {"x": {"field": "T2", "type": "quantitative"}, "y": {"field": "v2", "type": "quantitative"}}},
        {"data": {"name": "arrowsA"}, "transform": [{"filter": "datum.id === 'nonrev'"}], "mark": {"type": "point", "shape": "M0,0L-2,-0.6L-2,0.6Z", "size": 625, "angle": 0, "filled": true, "color": "#000000", "opacity": 1, "strokeWidth": 0}, "encoding": {"x": {"field": "T2", "type": "quantitative"}, "y": {"field": "v2", "type": "quantitative"}}},
        {"data": {"name": "arrowsA"}, "transform": [{"filter": "datum.id === 'rev'"}], "mark": {"type": "point", "shape": "M0,0L-2,-0.6L-2,0.6Z", "size": 625, "angle": 180, "filled": true, "color": "#000000", "opacity": 1, "strokeWidth": 0}, "encoding": {"x": {"field": "T2", "type": "quantitative"}, "y": {"field": "v2", "type": "quantitative"}}},
        {"data": {"name": "arrowsA"}, "transform": [{"filter": "datum.id === 'endo'"}], "mark": {"type": "point", "shape": "M0,0L-2,-0.6L-2,0.6Z", "size": 625, "angle": 270, "filled": true, "color": "#000000", "opacity": 1, "strokeWidth": 0}, "encoding": {"x": {"field": "T2", "type": "quantitative"}, "y": {"field": "v2", "type": "quantitative"}}},
        {"data": {"name": "notesA"}, "transform": [{"filter": "datum.kind === 'formula'"}], "mark": {"type": "text", "align": "left", "baseline": "alphabetic", "fontSize": 45, "fontWeight": "bold", "color": "#000000"}, "encoding": {"text": {"field": "text"}}},
        {"data": {"name": "notesA"}, "transform": [{"filter": "datum.kind === 'formulaSub'"}], "mark": {"type": "text", "align": "left", "baseline": "alphabetic", "fontSize": 27, "fontWeight": "bold", "color": "#000000"}, "encoding": {"text": {"field": "text"}}},
        {"data": {"name": "notesA"}, "transform": [{"filter": "datum.kind === 'tg'"}], "mark": {"type": "text", "align": "left", "baseline": "alphabetic", "fontSize": 38, "fontWeight": "bold", "color": "#000000"}, "encoding": {"text": {"field": "text"}}},
        {"data": {"name": "notesA"}, "transform": [{"filter": "datum.kind === 'tgScript'"}], "mark": {"type": "text", "align": "left", "baseline": "alphabetic", "fontSize": 24, "fontWeight": "bold", "color": "#000000"}, "encoding": {"text": {"field": "text"}}},
        {"data": {"name": "notesA"}, "transform": [{"filter": "datum.kind === 'note'"}], "mark": {"type": "text", "align": "left", "baseline": "alphabetic", "fontSize": 40, "color": "#000000"}, "encoding": {"text": {"field": "text"}}},
        {"data": {"name": "notesA"}, "transform": [{"filter": "datum.kind === 'panel'"}], "mark": {"type": "text", "align": "left", "baseline": "alphabetic", "fontSize": 40, "color": "#000000"}, "encoding": {"text": {"field": "text"}}}
      ]
    }
  ]
},
{
  "width": 800, "height": 560,
  "resolve": {"scale": {"y": "independent"}, "axis": {"x": "independent"}},
  "layer": [
    {
      "encoding": {
        "x": {"field": "T", "type": "quantitative", "scale": {"domain": [50, 85], "nice": false, "zero": false}, "axis": {"orient": "top", "values": [50,52.5,55,57.5,60,62.5,65,67.5,70,72.5,75,77.5,80,82.5,85], "labels": false, "title": null, "tickSize": {"condition": {"test": "datum.value % 5 === 0", "value": -12}, "value": -6}}},
        "y": {"field": "v", "type": "quantitative", "scale": {"domain": [-0.1, 0.95], "nice": false, "zero": false}, "axis": {"orient": "right", "values": [0,0.1,0.2,0.3,0.4,0.5,0.6,0.7,0.8,0.9], "labelExpr": "round(datum.value*10) % 2 === 0 ? format(datum.value, '.1f') : ''", "labelPadding": 27, "tickSize": {"condition": {"test": "round(datum.value*10) % 2 === 0", "value": -12}, "value": -6}, "title": null}}
      },
      "layer": [
        {"data": {"name": "curvesB"}, "transform": [{"filter": "datum.kind === 'nonrev' && datum.series === 'rej' && datum.T >= 54 && datum.T <= 74.2"}], "mark": {"type": "area", "color": "#808080", "opacity": 1}, "encoding": {"y2": {"datum": 0}}},
        {"data": {"name": "curvesB"}, "transform": [{"filter": "datum.kind === 'nonrev' && datum.series === 'sc' && datum.T >= 70.4 && datum.T <= 77.4"}], "mark": {"type": "area", "opacity": 1, "fill": {"gradient": "linear", "x1": 0, "y1": 0, "x2": 0.4754, "y2": 1.2067, "stops": [{"offset":0.016,"color":"rgba(255,0,0,0)"},{"offset":0.018,"color":"red"},{"offset":0.02,"color":"rgba(255,0,0,0)"},{"offset":0.036,"color":"rgba(255,0,0,0)"},{"offset":0.038,"color":"red"},{"offset":0.04,"color":"rgba(255,0,0,0)"},{"offset":0.056,"color":"rgba(255,0,0,0)"},{"offset":0.058,"color":"red"},{"offset":0.06,"color":"rgba(255,0,0,0)"},{"offset":0.076,"color":"rgba(255,0,0,0)"},{"offset":0.078,"color":"red"},{"offset":0.08,"color":"rgba(255,0,0,0)"},{"offset":0.096,"color":"rgba(255,0,0,0)"},{"offset":0.098,"color":"red"},{"offset":0.1,"color":"rgba(255,0,0,0)"},{"offset":0.116,"color":"rgba(255,0,0,0)"},{"offset":0.118,"color":"red"},{"offset":0.12,"color":"rgba(255,0,0,0)"},{"offset":0.136,"color":"rgba(255,0,0,0)"},{"offset":0.138,"color":"red"},{"offset":0.14,"color":"rgba(255,0,0,0)"},{"offset":0.156,"color":"rgba(255,0,0,0)"},{"offset":0.158,"color":"red"},{"offset":0.16,"color":"rgba(255,0,0,0)"},{"offset":0.176,"color":"rgba(255,0,0,0)"},{"offset":0.178,"color":"red"},{"offset":0.18,"color":"rgba(255,0,0,0)"},{"offset":0.196,"color":"rgba(255,0,0,0)"},{"offset":0.198,"color":"red"},{"offset":0.2,"color":"rgba(255,0,0,0)"},{"offset":0.216,"color":"rgba(255,0,0,0)"},{"offset":0.218,"color":"red"},{"offset":0.22,"color":"rgba(255,0,0,0)"},{"offset":0.236,"color":"rgba(255,0,0,0)"},{"offset":0.238,"color":"red"},{"offset":0.24,"color":"rgba(255,0,0,0)"},{"offset":0.256,"color":"rgba(255,0,0,0)"},{"offset":0.258,"color":"red"},{"offset":0.26,"color":"rgba(255,0,0,0)"},{"offset":0.276,"color":"rgba(255,0,0,0)"},{"offset":0.278,"color":"red"},{"offset":0.28,"color":"rgba(255,0,0,0)"},{"offset":0.296,"color":"rgba(255,0,0,0)"},{"offset":0.298,"color":"red"},{"offset":0.3,"color":"rgba(255,0,0,0)"},{"offset":0.316,"color":"rgba(255,0,0,0)"},{"offset":0.318,"color":"red"},{"offset":0.32,"color":"rgba(255,0,0,0)"},{"offset":0.336,"color":"rgba(255,0,0,0)"},{"offset":0.338,"color":"red"},{"offset":0.34,"color":"rgba(255,0,0,0)"},{"offset":0.356,"color":"rgba(255,0,0,0)"},{"offset":0.358,"color":"red"},{"offset":0.36,"color":"rgba(255,0,0,0)"},{"offset":0.376,"color":"rgba(255,0,0,0)"},{"offset":0.378,"color":"red"},{"offset":0.38,"color":"rgba(255,0,0,0)"},{"offset":0.396,"color":"rgba(255,0,0,0)"},{"offset":0.398,"color":"red"},{"offset":0.4,"color":"rgba(255,0,0,0)"},{"offset":0.416,"color":"rgba(255,0,0,0)"},{"offset":0.418,"color":"red"},{"offset":0.42,"color":"rgba(255,0,0,0)"},{"offset":0.436,"color":"rgba(255,0,0,0)"},{"offset":0.438,"color":"red"},{"offset":0.44,"color":"rgba(255,0,0,0)"},{"offset":0.456,"color":"rgba(255,0,0,0)"},{"offset":0.458,"color":"red"},{"offset":0.46,"color":"rgba(255,0,0,0)"},{"offset":0.476,"color":"rgba(255,0,0,0)"},{"offset":0.478,"color":"red"},{"offset":0.48,"color":"rgba(255,0,0,0)"},{"offset":0.496,"color":"rgba(255,0,0,0)"},{"offset":0.498,"color":"red"},{"offset":0.5,"color":"rgba(255,0,0,0)"},{"offset":0.516,"color":"rgba(255,0,0,0)"},{"offset":0.518,"color":"red"},{"offset":0.52,"color":"rgba(255,0,0,0)"},{"offset":0.536,"color":"rgba(255,0,0,0)"},{"offset":0.538,"color":"red"},{"offset":0.54,"color":"rgba(255,0,0,0)"},{"offset":0.556,"color":"rgba(255,0,0,0)"},{"offset":0.558,"color":"red"},{"offset":0.56,"color":"rgba(255,0,0,0)"},{"offset":0.576,"color":"rgba(255,0,0,0)"},{"offset":0.578,"color":"red"},{"offset":0.58,"color":"rgba(255,0,0,0)"},{"offset":0.596,"color":"rgba(255,0,0,0)"},{"offset":0.598,"color":"red"},{"offset":0.6,"color":"rgba(255,0,0,0)"},{"offset":0.616,"color":"rgba(255,0,0,0)"},{"offset":0.618,"color":"red"},{"offset":0.62,"color":"rgba(255,0,0,0)"},{"offset":0.636,"color":"rgba(255,0,0,0)"},{"offset":0.638,"color":"red"},{"offset":0.64,"color":"rgba(255,0,0,0)"},{"offset":0.656,"color":"rgba(255,0,0,0)"},{"offset":0.658,"color":"red"},{"offset":0.66,"color":"rgba(255,0,0,0)"},{"offset":0.676,"color":"rgba(255,0,0,0)"},{"offset":0.678,"color":"red"},{"offset":0.68,"color":"rgba(255,0,0,0)"},{"offset":0.696,"color":"rgba(255,0,0,0)"},{"offset":0.698,"color":"red"},{"offset":0.7,"color":"rgba(255,0,0,0)"},{"offset":0.716,"color":"rgba(255,0,0,0)"},{"offset":0.718,"color":"red"},{"offset":0.72,"color":"rgba(255,0,0,0)"},{"offset":0.736,"color":"rgba(255,0,0,0)"},{"offset":0.738,"color":"red"},{"offset":0.74,"color":"rgba(255,0,0,0)"},{"offset":0.756,"color":"rgba(255,0,0,0)"},{"offset":0.758,"color":"red"},{"offset":0.76,"color":"rgba(255,0,0,0)"},{"offset":0.776,"color":"rgba(255,0,0,0)"},{"offset":0.778,"color":"red"},{"offset":0.78,"color":"rgba(255,0,0,0)"},{"offset":0.796,"color":"rgba(255,0,0,0)"},{"offset":0.798,"color":"red"},{"offset":0.8,"color":"rgba(255,0,0,0)"},{"offset":0.816,"color":"rgba(255,0,0,0)"},{"offset":0.818,"color":"red"},{"offset":0.82,"color":"rgba(255,0,0,0)"},{"offset":0.836,"color":"rgba(255,0,0,0)"},{"offset":0.838,"color":"red"},{"offset":0.84,"color":"rgba(255,0,0,0)"},{"offset":0.856,"color":"rgba(255,0,0,0)"},{"offset":0.858,"color":"red"},{"offset":0.86,"color":"rgba(255,0,0,0)"},{"offset":0.876,"color":"rgba(255,0,0,0)"},{"offset":0.878,"color":"red"},{"offset":0.88,"color":"rgba(255,0,0,0)"},{"offset":0.896,"color":"rgba(255,0,0,0)"},{"offset":0.898,"color":"red"},{"offset":0.9,"color":"rgba(255,0,0,0)"},{"offset":0.916,"color":"rgba(255,0,0,0)"},{"offset":0.918,"color":"red"},{"offset":0.92,"color":"rgba(255,0,0,0)"},{"offset":0.936,"color":"rgba(255,0,0,0)"},{"offset":0.938,"color":"red"},{"offset":0.94,"color":"rgba(255,0,0,0)"},{"offset":0.956,"color":"rgba(255,0,0,0)"},{"offset":0.958,"color":"red"},{"offset":0.96,"color":"rgba(255,0,0,0)"},{"offset":0.976,"color":"rgba(255,0,0,0)"},{"offset":0.978,"color":"red"},{"offset":0.98,"color":"rgba(255,0,0,0)"},{"offset":0.996,"color":"rgba(255,0,0,0)"},{"offset":0.998,"color":"red"},{"offset":1,"color":"rgba(255,0,0,0)"}]}}, "encoding": {"y2": {"datum": 0}}},
        {"data": {"name": "curvesB"}, "transform": [{"filter": "datum.kind === 'nonrev' && datum.series === 'mq' && datum.T >= 71.2 && datum.T <= 81.5"}], "mark": {"type": "area", "opacity": 1, "fill": {"gradient": "linear", "x1": 0, "y1": 1, "x2": 0.7006, "y2": -0.178, "stops": [{"offset":0.016,"color":"rgba(0,0,255,0)"},{"offset":0.018,"color":"blue"},{"offset":0.02,"color":"rgba(0,0,255,0)"},{"offset":0.036,"color":"rgba(0,0,255,0)"},{"offset":0.038,"color":"blue"},{"offset":0.04,"color":"rgba(0,0,255,0)"},{"offset":0.056,"color":"rgba(0,0,255,0)"},{"offset":0.058,"color":"blue"},{"offset":0.06,"color":"rgba(0,0,255,0)"},{"offset":0.076,"color":"rgba(0,0,255,0)"},{"offset":0.078,"color":"blue"},{"offset":0.08,"color":"rgba(0,0,255,0)"},{"offset":0.096,"color":"rgba(0,0,255,0)"},{"offset":0.098,"color":"blue"},{"offset":0.1,"color":"rgba(0,0,255,0)"},{"offset":0.116,"color":"rgba(0,0,255,0)"},{"offset":0.118,"color":"blue"},{"offset":0.12,"color":"rgba(0,0,255,0)"},{"offset":0.136,"color":"rgba(0,0,255,0)"},{"offset":0.138,"color":"blue"},{"offset":0.14,"color":"rgba(0,0,255,0)"},{"offset":0.156,"color":"rgba(0,0,255,0)"},{"offset":0.158,"color":"blue"},{"offset":0.16,"color":"rgba(0,0,255,0)"},{"offset":0.176,"color":"rgba(0,0,255,0)"},{"offset":0.178,"color":"blue"},{"offset":0.18,"color":"rgba(0,0,255,0)"},{"offset":0.196,"color":"rgba(0,0,255,0)"},{"offset":0.198,"color":"blue"},{"offset":0.2,"color":"rgba(0,0,255,0)"},{"offset":0.216,"color":"rgba(0,0,255,0)"},{"offset":0.218,"color":"blue"},{"offset":0.22,"color":"rgba(0,0,255,0)"},{"offset":0.236,"color":"rgba(0,0,255,0)"},{"offset":0.238,"color":"blue"},{"offset":0.24,"color":"rgba(0,0,255,0)"},{"offset":0.256,"color":"rgba(0,0,255,0)"},{"offset":0.258,"color":"blue"},{"offset":0.26,"color":"rgba(0,0,255,0)"},{"offset":0.276,"color":"rgba(0,0,255,0)"},{"offset":0.278,"color":"blue"},{"offset":0.28,"color":"rgba(0,0,255,0)"},{"offset":0.296,"color":"rgba(0,0,255,0)"},{"offset":0.298,"color":"blue"},{"offset":0.3,"color":"rgba(0,0,255,0)"},{"offset":0.316,"color":"rgba(0,0,255,0)"},{"offset":0.318,"color":"blue"},{"offset":0.32,"color":"rgba(0,0,255,0)"},{"offset":0.336,"color":"rgba(0,0,255,0)"},{"offset":0.338,"color":"blue"},{"offset":0.34,"color":"rgba(0,0,255,0)"},{"offset":0.356,"color":"rgba(0,0,255,0)"},{"offset":0.358,"color":"blue"},{"offset":0.36,"color":"rgba(0,0,255,0)"},{"offset":0.376,"color":"rgba(0,0,255,0)"},{"offset":0.378,"color":"blue"},{"offset":0.38,"color":"rgba(0,0,255,0)"},{"offset":0.396,"color":"rgba(0,0,255,0)"},{"offset":0.398,"color":"blue"},{"offset":0.4,"color":"rgba(0,0,255,0)"},{"offset":0.416,"color":"rgba(0,0,255,0)"},{"offset":0.418,"color":"blue"},{"offset":0.42,"color":"rgba(0,0,255,0)"},{"offset":0.436,"color":"rgba(0,0,255,0)"},{"offset":0.438,"color":"blue"},{"offset":0.44,"color":"rgba(0,0,255,0)"},{"offset":0.456,"color":"rgba(0,0,255,0)"},{"offset":0.458,"color":"blue"},{"offset":0.46,"color":"rgba(0,0,255,0)"},{"offset":0.476,"color":"rgba(0,0,255,0)"},{"offset":0.478,"color":"blue"},{"offset":0.48,"color":"rgba(0,0,255,0)"},{"offset":0.496,"color":"rgba(0,0,255,0)"},{"offset":0.498,"color":"blue"},{"offset":0.5,"color":"rgba(0,0,255,0)"},{"offset":0.516,"color":"rgba(0,0,255,0)"},{"offset":0.518,"color":"blue"},{"offset":0.52,"color":"rgba(0,0,255,0)"},{"offset":0.536,"color":"rgba(0,0,255,0)"},{"offset":0.538,"color":"blue"},{"offset":0.54,"color":"rgba(0,0,255,0)"},{"offset":0.556,"color":"rgba(0,0,255,0)"},{"offset":0.558,"color":"blue"},{"offset":0.56,"color":"rgba(0,0,255,0)"},{"offset":0.576,"color":"rgba(0,0,255,0)"},{"offset":0.578,"color":"blue"},{"offset":0.58,"color":"rgba(0,0,255,0)"},{"offset":0.596,"color":"rgba(0,0,255,0)"},{"offset":0.598,"color":"blue"},{"offset":0.6,"color":"rgba(0,0,255,0)"},{"offset":0.616,"color":"rgba(0,0,255,0)"},{"offset":0.618,"color":"blue"},{"offset":0.62,"color":"rgba(0,0,255,0)"},{"offset":0.636,"color":"rgba(0,0,255,0)"},{"offset":0.638,"color":"blue"},{"offset":0.64,"color":"rgba(0,0,255,0)"},{"offset":0.656,"color":"rgba(0,0,255,0)"},{"offset":0.658,"color":"blue"},{"offset":0.66,"color":"rgba(0,0,255,0)"},{"offset":0.676,"color":"rgba(0,0,255,0)"},{"offset":0.678,"color":"blue"},{"offset":0.68,"color":"rgba(0,0,255,0)"},{"offset":0.696,"color":"rgba(0,0,255,0)"},{"offset":0.698,"color":"blue"},{"offset":0.7,"color":"rgba(0,0,255,0)"},{"offset":0.716,"color":"rgba(0,0,255,0)"},{"offset":0.718,"color":"blue"},{"offset":0.72,"color":"rgba(0,0,255,0)"},{"offset":0.736,"color":"rgba(0,0,255,0)"},{"offset":0.738,"color":"blue"},{"offset":0.74,"color":"rgba(0,0,255,0)"},{"offset":0.756,"color":"rgba(0,0,255,0)"},{"offset":0.758,"color":"blue"},{"offset":0.76,"color":"rgba(0,0,255,0)"},{"offset":0.776,"color":"rgba(0,0,255,0)"},{"offset":0.778,"color":"blue"},{"offset":0.78,"color":"rgba(0,0,255,0)"},{"offset":0.796,"color":"rgba(0,0,255,0)"},{"offset":0.798,"color":"blue"},{"offset":0.8,"color":"rgba(0,0,255,0)"},{"offset":0.816,"color":"rgba(0,0,255,0)"},{"offset":0.818,"color":"blue"},{"offset":0.82,"color":"rgba(0,0,255,0)"},{"offset":0.836,"color":"rgba(0,0,255,0)"},{"offset":0.838,"color":"blue"},{"offset":0.84,"color":"rgba(0,0,255,0)"},{"offset":0.856,"color":"rgba(0,0,255,0)"},{"offset":0.858,"color":"blue"},{"offset":0.86,"color":"rgba(0,0,255,0)"},{"offset":0.876,"color":"rgba(0,0,255,0)"},{"offset":0.878,"color":"blue"},{"offset":0.88,"color":"rgba(0,0,255,0)"},{"offset":0.896,"color":"rgba(0,0,255,0)"},{"offset":0.898,"color":"blue"},{"offset":0.9,"color":"rgba(0,0,255,0)"},{"offset":0.916,"color":"rgba(0,0,255,0)"},{"offset":0.918,"color":"blue"},{"offset":0.92,"color":"rgba(0,0,255,0)"},{"offset":0.936,"color":"rgba(0,0,255,0)"},{"offset":0.938,"color":"blue"},{"offset":0.94,"color":"rgba(0,0,255,0)"},{"offset":0.956,"color":"rgba(0,0,255,0)"},{"offset":0.958,"color":"blue"},{"offset":0.96,"color":"rgba(0,0,255,0)"},{"offset":0.976,"color":"rgba(0,0,255,0)"},{"offset":0.978,"color":"blue"},{"offset":0.98,"color":"rgba(0,0,255,0)"},{"offset":0.996,"color":"rgba(0,0,255,0)"},{"offset":0.998,"color":"blue"},{"offset":1,"color":"rgba(0,0,255,0)"}]}}, "encoding": {"y2": {"datum": 0}}},
        {"data": {"name": "curvesB"}, "transform": [{"filter": "datum.kind === 'nonrev'"}], "mark": {"type": "line", "strokeWidth": 3.8}, "encoding": {"color": {"field": "series", "type": "nominal", "scale": {"domain": ["mq","sc","rej"], "range": ["#0000ff","#ff0000","#000000"]}, "legend": null}, "strokeDash": {"field": "series", "type": "nominal", "scale": {"domain": ["mq","sc","rej"], "range": [[1,0],[20,12],[18,7,4,7]]}, "legend": null}}}
      ]
    },
    {
      "encoding": {
        "x": {"field": "T", "type": "quantitative", "scale": {"domain": [50, 85], "nice": false, "zero": false}, "axis": {"orient": "bottom", "values": [50,52.5,55,57.5,60,62.5,65,67.5,70,72.5,75,77.5,80,82.5,85], "labelExpr": "datum.value % 5 === 0 ? datum.label : ''", "labelPadding": 16, "tickSize": {"condition": {"test": "datum.value % 5 === 0", "value": -12}, "value": -6}, "title": "Temperature (ᵒC)", "titleFontSize": 58, "titleX": 407, "titleY": 104, "titleAlign": "center", "titleBaseline": "alphabetic"}},
        "y": {"field": "v", "type": "quantitative", "scale": {"domain": [0, 0.11], "nice": false, "zero": false}, "axis": {"orient": "left", "values": [0,0.01,0.02,0.03,0.04,0.05,0.06,0.07,0.08,0.09,0.1], "labelExpr": "round(datum.value*100) % 2 === 0 ? format(datum.value, '.2f') : ''", "labelPadding": 27, "tickSize": {"condition": {"test": "round(datum.value*100) % 2 === 0", "value": -12}, "value": -6}, "title": null}}
      },
      "layer": [
        {"data": {"name": "curvesB"}, "transform": [{"filter": "datum.kind === 'rev'"}], "mark": {"type": "line", "strokeWidth": 3.8}, "encoding": {"color": {"field": "series", "type": "nominal", "scale": {"domain": ["mq","sc","rej"], "range": ["#0000ff","#ff0000","#000000"]}, "legend": null}, "strokeDash": {"field": "series", "type": "nominal", "scale": {"domain": ["mq","sc","rej"], "range": [[1,0],[20,12],[18,7,4,7]]}, "legend": null}}},
        {"data": {"name": "shadowB"}, "mark": {"type": "rect", "color": "#000000", "opacity": 1}, "encoding": {"x2": {"field": "T2"}, "y2": {"field": "v2"}}},
        {"data": {"name": "legendBoxB"}, "mark": {"type": "rect", "fill": "#ffffff", "stroke": "#000000", "strokeWidth": 1.5, "opacity": 1}, "encoding": {"x2": {"field": "T2"}, "y2": {"field": "v2"}}},
        {"data": {"name": "legendB"}, "mark": {"type": "rule", "strokeWidth": 3.8}, "encoding": {"x2": {"field": "T2"}, "color": {"field": "series", "type": "nominal", "scale": {"domain": ["mq","sc","rej"], "range": ["#0000ff","#ff0000","#000000"]}, "legend": null}, "strokeDash": {"field": "series", "type": "nominal", "scale": {"domain": ["mq","sc","rej"], "range": [[1,0],[20,12],[18,7,4,7]]}, "legend": null}}},
        {"data": {"name": "legendB"}, "mark": {"type": "text", "align": "left", "baseline": "alphabetic", "fontSize": 40, "color": "#000000"}, "encoding": {"x": {"field": "lx", "type": "quantitative"}, "y": {"field": "lv", "type": "quantitative"}, "text": {"field": "label"}}},
        {"data": {"name": "arrowsB"}, "transform": [{"filter": "indexof(['rev','nonrev'], datum.id) >= 0"}], "mark": {"type": "rule", "strokeWidth": 2, "color": "#000000"}, "encoding": {"x2": {"field": "T2"}, "y2": {"field": "v2"}}},
        {"data": {"name": "arrowsB"}, "transform": [{"filter": "indexof(['rej','sc','mq'], datum.id) >= 0"}], "mark": {"type": "rule", "strokeWidth": 3.5, "color": "#000000"}, "encoding": {"x2": {"field": "T2"}, "y2": {"field": "v2"}}},
        {"data": {"name": "arrowsB"}, "transform": [{"filter": "datum.id === 'rej'"}], "mark": {"type": "point", "shape": "M0,0L-2,-0.5L-2,0.5Z", "size": 1296, "angle": 0, "filled": true, "color": "#000000", "opacity": 1, "strokeWidth": 0}, "encoding": {"x": {"field": "T2", "type": "quantitative"}, "y": {"field": "v2", "type": "quantitative"}}},
        {"data": {"name": "arrowsB"}, "transform": [{"filter": "datum.id === 'sc'"}], "mark": {"type": "point", "shape": "M0,0L-2,-0.5L-2,0.5Z", "size": 1296, "angle": 324, "filled": true, "color": "#000000", "opacity": 1, "strokeWidth": 0}, "encoding": {"x": {"field": "T2", "type": "quantitative"}, "y": {"field": "v2", "type": "quantitative"}}},
        {"data": {"name": "arrowsB"}, "transform": [{"filter": "datum.id === 'mq'"}], "mark": {"type": "point", "shape": "M0,0L-2,-0.5L-2,0.5Z", "size": 1296, "angle": 204.8, "filled": true, "color": "#000000", "opacity": 1, "strokeWidth": 0}, "encoding": {"x": {"field": "T2", "type": "quantitative"}, "y": {"field": "v2", "type": "quantitative"}}},
        {"data": {"name": "arrowsB"}, "transform": [{"filter": "datum.id === 'nonrev'"}], "mark": {"type": "point", "shape": "M0,0L-2,-0.6L-2,0.6Z", "size": 625, "angle": 0, "filled": true, "color": "#000000", "opacity": 1, "strokeWidth": 0}, "encoding": {"x": {"field": "T2", "type": "quantitative"}, "y": {"field": "v2", "type": "quantitative"}}},
        {"data": {"name": "arrowsB"}, "transform": [{"filter": "datum.id === 'rev'"}], "mark": {"type": "point", "shape": "M0,0L-2,-0.6L-2,0.6Z", "size": 625, "angle": 180, "filled": true, "color": "#000000", "opacity": 1, "strokeWidth": 0}, "encoding": {"x": {"field": "T2", "type": "quantitative"}, "y": {"field": "v2", "type": "quantitative"}}},
        {"data": {"name": "notesB"}, "transform": [{"filter": "datum.kind === 'formula'"}], "mark": {"type": "text", "align": "left", "baseline": "alphabetic", "fontSize": 45, "fontWeight": "bold", "color": "#000000"}, "encoding": {"text": {"field": "text"}}},
        {"data": {"name": "notesB"}, "transform": [{"filter": "datum.kind === 'formulaSub'"}], "mark": {"type": "text", "align": "left", "baseline": "alphabetic", "fontSize": 27, "fontWeight": "bold", "color": "#000000"}, "encoding": {"text": {"field": "text"}}},
        {"data": {"name": "notesB"}, "transform": [{"filter": "datum.kind === 'tg'"}], "mark": {"type": "text", "align": "left", "baseline": "alphabetic", "fontSize": 38, "fontWeight": "bold", "color": "#000000"}, "encoding": {"text": {"field": "text"}}},
        {"data": {"name": "notesB"}, "transform": [{"filter": "datum.kind === 'tgScript'"}], "mark": {"type": "text", "align": "left", "baseline": "alphabetic", "fontSize": 24, "fontWeight": "bold", "color": "#000000"}, "encoding": {"text": {"field": "text"}}},
        {"data": {"name": "notesB"}, "transform": [{"filter": "datum.kind === 'note'"}], "mark": {"type": "text", "align": "left", "baseline": "alphabetic", "fontSize": 40, "color": "#000000"}, "encoding": {"text": {"field": "text"}}},
        {"data": {"name": "notesB"}, "transform": [{"filter": "datum.kind === 'panel'"}], "mark": {"type": "text", "align": "left", "baseline": "alphabetic", "fontSize": 40, "color": "#000000"}, "encoding": {"text": {"field": "text"}}}
      ]
    }
  ]
}
]
}
